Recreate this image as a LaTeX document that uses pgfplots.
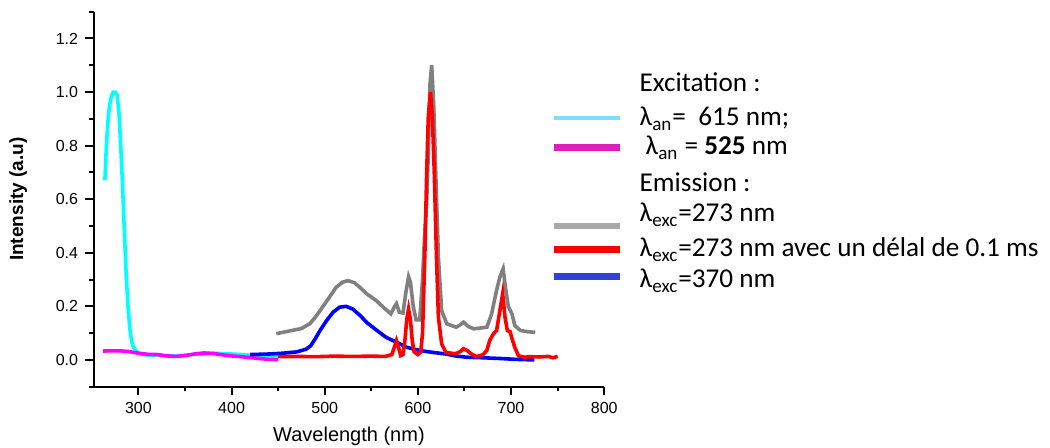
\documentclass[border=0pt]{standalone}
\usepackage{pgfplots}
\pgfplotsset{compat=1.18}
\usepackage{fontspec}
\setmainfont{Carlito}
\newfontfamily\arialf{Liberation Sans}
\definecolor{ccyan}{RGB}{0,255,255}
\definecolor{cmag}{RGB}{255,0,255}
\definecolor{cgray}{RGB}{128,128,128}
\definecolor{cred}{RGB}{255,0,0}
\definecolor{cblue}{RGB}{0,0,255}
\definecolor{lcyan}{RGB}{128,220,248}
\definecolor{lmag}{RGB}{220,30,190}
\definecolor{lgray}{RGB}{168,168,168}
\definecolor{lblue}{RGB}{50,64,216}
\begin{document}
\begin{tikzpicture}
\useasboundingbox (-46.85pt,-30.65pt) rectangle (478.15pt,193.35pt);
\begin{axis}[
  scale only axis, width=255.25pt, height=187.5pt,
  xmin=252, xmax=800, ymin=-0.1, ymax=1.3,
  axis x line*=bottom, axis y line*=left,
  axis line style={line width=1pt,-},
  every tick/.style={black,line width=1pt},
  tick align=outside,
  major tick length=4.3pt, minor tick length=2.3pt,
  xtick={300,400,...,800}, minor xtick={250,350,...,750},
  ytick={0,0.2,...,1.2}, minor ytick={-0.1,0.1,...,1.3},
  /pgf/number format/assume math mode=true,
  ticklabel style={font=\arialf\fontsize{8}{9}\selectfont},
  yticklabel style={/pgf/number format/.cd,fixed,fixed zerofill,precision=1},
  xticklabel style={/pgf/number format/.cd,fixed,precision=0},
  xlabel={Wavelength (nm)}, ylabel={Intensity (a.u)},
  xlabel style={font=\arialf\fontsize{10}{12}\selectfont, at={(axis description cs:0.5,-0.133)}, anchor=center},
  ylabel style={font=\arialf\bfseries\fontsize{9.5}{11}\selectfont, at={(axis description cs:-0.148,0.5)}, anchor=center, rotate=0},
  legend image code/.code={\draw[#1] (0pt,4pt) -- (33pt,4pt);},
  legend cell align=left,
  legend style={draw=none, fill=none, inner sep=0pt, outer sep=0pt,
    at={(axis description cs:0.896,0.84)}, anchor=north west,
    column sep=8pt, row sep=0pt,
    nodes={inner sep=0pt, text height=10pt, text depth=6.7pt, font=\fontsize{13.6}{15}\selectfont}},
]
% excitation monitored at 615 nm
\addplot[ccyan, line width=1.8pt, forget plot] coordinates {
(264,0.67) (265.5,0.79) (267,0.88) (269,0.95) (271,0.985) (273,1.0) (275,1.0) (277,0.99) (279,0.93) (281,0.80) (283,0.65) (285,0.47) (287,0.31) (289,0.19) (291,0.11) (293,0.065) (295,0.045) (298,0.032) (302,0.022) (310,0.018) (320,0.017) (340,0.015) (360,0.02) (380,0.025) (400,0.022) (420,0.018) (440,0.015) (450,0.015)};
% excitation monitored at 525 nm
\addplot[cmag, line width=1.8pt, forget plot] coordinates {
(262,0.033) (270,0.034) (280,0.034) (290,0.031) (300,0.025) (310,0.021) (320,0.02) (330,0.015) (340,0.013) (350,0.016) (360,0.022) (370,0.026) (380,0.024) (390,0.019) (400,0.015) (410,0.012) (420,0.009) (430,0.005) (440,0.002) (450,0.001)};
% emission exc 273
\addplot[cgray, line width=1.8pt, forget plot] coordinates {
(448,0.098) (455,0.103) (465,0.11) (475,0.117) (484,0.135) (490,0.16) (495,0.184) (505,0.234) (512,0.27) (519,0.29) (525,0.296) (532,0.288) (538,0.27) (545,0.247) (555,0.222) (565,0.19) (571,0.172) (575,0.2) (577,0.21) (580,0.178) (584,0.175) (587,0.25) (590,0.31) (592,0.29) (595,0.2) (598,0.15) (602,0.15) (605,0.3) (607,0.45) (609.5,0.6) (611,0.75) (613,1.03) (614.8,1.10) (617,0.95) (619.5,0.66) (622,0.384) (625.5,0.184) (631,0.135) (641,0.122) (645,0.13) (649,0.141) (654,0.125) (660,0.116) (674,0.122) (679,0.17) (684.5,0.26) (688,0.31) (691.5,0.34) (694,0.27) (697,0.2) (701,0.172) (704,0.128) (710,0.11) (718,0.105) (726,0.103)};
% emission exc 370
\addplot[cblue, line width=1.8pt, forget plot] coordinates {
(420,0.02) (440,0.022) (455,0.025) (470,0.03) (480,0.04) (485,0.053) (490,0.08) (495,0.11) (502,0.147) (509,0.178) (516,0.197) (523,0.2) (530,0.19) (538,0.166) (545,0.14) (556,0.11) (566,0.084) (577,0.066) (588,0.047) (602,0.035) (616,0.028) (630,0.022) (640,0.015) (652,0.01) (670,0.008) (690,0.005) (705,0.002) (725,0.0)};
% emission exc 273, delay 0.1 ms
\addplot[cred, line width=1.8pt, forget plot] coordinates {
(450,0.012) (470,0.013) (490,0.012) (510,0.014) (530,0.013) (550,0.014) (565,0.013) (572,0.02) (575,0.05) (577,0.072) (579,0.05) (581.5,0.016) (584,0.02) (586,0.07) (588,0.15) (590,0.19) (592,0.15) (594,0.07) (596,0.03) (600,0.02) (603,0.03) (605,0.1) (607.6,0.41) (609.5,0.71) (611.2,0.91) (613.5,1.0) (615.5,0.91) (617.5,0.71) (620,0.38) (622,0.16) (625.5,0.06) (630,0.028) (640,0.023) (645,0.03) (649,0.042) (653,0.035) (657,0.023) (663,0.012) (670,0.02) (674,0.035) (677,0.072) (681,0.097) (684.5,0.11) (688,0.184) (691,0.247) (693.5,0.16) (696,0.11) (699,0.105) (701,0.08) (704,0.047) (708,0.015) (715,0.01) (720,0.012) (730,0.011) (740,0.013) (745,0.008) (750,0.013)};
\addlegendimage{empty legend}
\addlegendentry[text depth=7.15pt]{Excitation :}
\addlegendimage{lcyan, line width=2pt, yshift=-3pt}
\addlegendentry[text depth=4.5pt]{λ\textsubscript{an}=\ \ 615 nm;}
\addlegendimage{lmag, line width=3.3pt, yshift=-1pt}
\addlegendentry[text depth=8.35pt]{\hspace{3pt}λ\textsubscript{an} = \textbf{525} nm}
\addlegendimage{empty legend}
\addlegendentry[text depth=5pt]{Emission :}
\addlegendimage{lgray, line width=3.3pt, yshift=-7.5pt}
\addlegendentry[text depth=7.5pt]{λ\textsubscript{exc}=273 nm}
\addlegendimage{cred, line width=3.3pt, yshift=-2.5pt}
\addlegendentry[text depth=5.65pt]{λ\textsubscript{exc}=273 nm avec un délal de 0.1 ms}
\addlegendimage{lblue, line width=3.3pt}
\addlegendentry{λ\textsubscript{exc}=370 nm}
\end{axis}
\end{tikzpicture}
\end{document}
